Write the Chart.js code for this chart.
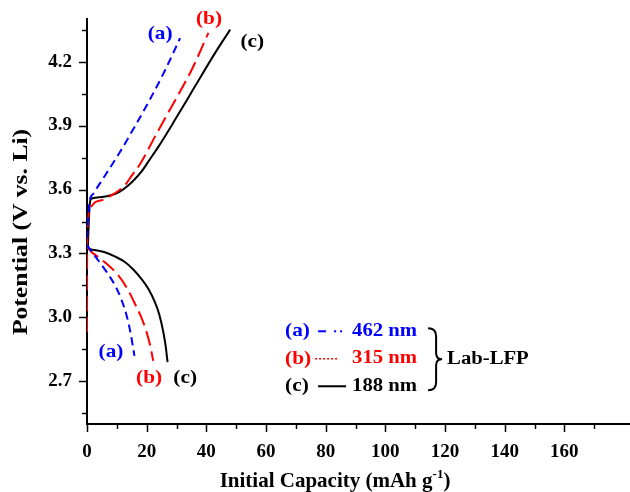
<!DOCTYPE html>
<html>
<head>
<meta charset="utf-8">
<script src="https://cdn.jsdelivr.net/npm/chart.js@4.4.0/dist/chart.umd.min.js"></script>
<style>
  html, body { margin: 0; padding: 0; background: #fff; }
</style>
</head>
<body>
<canvas id="capacityChart" width="630" height="492"></canvas>
<script>
// (a) 462 nm - charge / discharge  (capacity mAh/g, potential V)
const aChargeCap = [0, 0.3, 0.8, 2.1, 6, 11, 16, 21, 26, 31.2];
const aChargeV   = [3.37, 3.45, 3.54, 3.58, 3.665, 3.775, 3.895, 4.02, 4.155, 4.31];
const aDischCap  = [0, 1.5, 3.8, 6.5, 9.4, 11.5, 13.3, 14.7, 15.9];
const aDischV    = [3.34, 3.31, 3.267, 3.215, 3.15, 3.085, 3.008, 2.92, 2.82];

// (b) 315 nm
const bChargeCap = [0, 0.05, 0.2, 0.6, 1.5, 2.7, 5, 8.5, 12.7, 15, 17.8, 23.4, 29, 35.1, 40.7];
const bChargeV   = [2.93, 3.3, 3.42, 3.49, 3.52, 3.54, 3.55, 3.575, 3.62, 3.665, 3.72, 3.864, 4.005, 4.162, 4.335];
const bDischCap  = [0, 1.6, 5, 10.5, 13.5, 16.1, 18.2, 20, 21.3, 22.2];
const bDischV    = [3.33, 3.306, 3.27, 3.197, 3.135, 3.063, 3.0, 2.93, 2.86, 2.796];

// (c) 188 nm
const cChargeCap = [0.3, 0.6, 1.0, 1.57, 5, 8.3, 11, 13.9, 16, 18.3, 21, 23.9, 29.5, 36.2, 42.9, 48];
const cChargeV   = [3.33, 3.45, 3.54, 3.558, 3.565, 3.574, 3.59, 3.62, 3.648, 3.685, 3.74, 3.80, 3.927, 4.084, 4.24, 4.35];
const cDischCap  = [0, 0.45, 3, 6, 9.5, 12.7, 15.5, 18.3, 20.5, 22.8, 24.2, 25.6, 26.4, 27];
const cDischV    = [3.34, 3.325, 3.315, 3.306, 3.285, 3.26, 3.225, 3.18, 3.136, 3.071, 3.015, 2.93, 2.862, 2.79];

// axis ticks (minor ticks carry an empty label)
const xTickValues = [0, 10, 20, 30, 40, 50, 60, 70, 80, 90, 100, 110, 120, 130, 140, 150, 160, 170];
const xTickLabels = ['0', '', '20', '', '40', '', '60', '', '80', '', '100', '', '120', '', '140', '', '160', ''];
const yTickValues = [2.55, 2.7, 2.85, 3.0, 3.15, 3.3, 3.45, 3.6, 3.75, 3.9, 4.05, 4.2, 4.35];
const yTickLabels = ['', '2.7', '', '3.0', '', '3.3', '', '3.6', '', '3.9', '', '4.2', ''];

// curve tags, placed in data units
const tagText  = ['(a)', '(b)', '(c)', '(a)', '(b)', '(c)'];
const tagColor = ['#0000ff', '#ff0000', '#000000', '#0000ff', '#ff0000', '#000000'];
const tagCap   = [24.5, 40.9, 55.4, 8.05, 20.8, 32.9];
const tagV     = [4.327, 4.398, 4.294, 2.839, 2.716, 2.716];

// legend rows
const legendTags   = ['(a)', '(b)', '(c)'];
const legendSizes  = ['462 nm', '315 nm', '188 nm'];
const legendColors = ['#0000ff', '#ff0000', '#000000'];
const legendGroup  = 'Lab-LFP';

const BLUE = '#0000ff', RED = '#ff0000', BLACK = '#000000';
const FONT = '"Liberation Serif", "Times New Roman", serif';

function pts(xs, ys) {
    return xs.map((x, i) => ({ x: x, y: ys[i] }));
}

function curve(xs, ys, color, dash) {
    return {
        data: pts(xs, ys),
        showLine: true,
        borderColor: color,
        borderWidth: 2,
        borderDash: dash,
        pointRadius: 0,
        cubicInterpolationMode: 'monotone',
        fill: false
    };
}

function drawText(ctx, str, x, y, opt) {
    ctx.save();
    ctx.font = 'bold ' + opt.size + 'px ' + FONT;
    ctx.fillStyle = opt.color || BLACK;
    ctx.textBaseline = opt.baseline || 'middle';
    ctx.textAlign = opt.align || 'center';
    ctx.translate(x, y);
    if (opt.rotate) ctx.rotate(opt.rotate);
    ctx.scale(opt.sx || 1, 1);
    ctx.fillText(str, 0, 0);
    ctx.restore();
}

// minor/major tick marks, titles, tags and the legend box
const decorations = {
    id: 'decorations',
    afterDraw(chart) {
        const ctx = chart.ctx;
        const xs = chart.scales.x, ys = chart.scales.y;
        const area = chart.chartArea;

        ctx.save();
        ctx.strokeStyle = BLACK;
        ctx.lineWidth = 1.5;
        xTickValues.forEach((v, i) => {
            const px = Math.round(xs.getPixelForValue(v)) + 0.5;
            const len = xTickLabels[i] ? 8 : 5;
            ctx.beginPath();
            ctx.moveTo(px, area.bottom);
            ctx.lineTo(px, area.bottom + len);
            ctx.stroke();
        });
        yTickValues.forEach((v, i) => {
            const py = Math.round(ys.getPixelForValue(v)) + 0.5;
            const len = yTickLabels[i] ? 8 : 5;
            ctx.beginPath();
            ctx.moveTo(area.left, py);
            ctx.lineTo(area.left - len, py);
            ctx.stroke();
        });
        ctx.restore();

        // y title
        drawText(ctx, 'Potential (V vs. Li)', 22, 232, { size: 20, rotate: -Math.PI / 2, sx: 1.28 });

        // x title with superscript
        ctx.save();
        ctx.font = 'bold 21px ' + FONT;
        const main = 'Initial Capacity (mAh g';
        const wMain = ctx.measureText(main).width;
        ctx.font = 'bold 13px ' + FONT;
        const wSup = ctx.measureText('-1').width;
        ctx.font = 'bold 21px ' + FONT;
        const wEnd = ctx.measureText(')').width;
        const total = wMain + wSup + wEnd;
        const x0 = 335 - total / 2;
        const base = 487;
        ctx.fillStyle = BLACK;
        ctx.textBaseline = 'alphabetic';
        ctx.textAlign = 'left';
        ctx.fillText(main, x0, base);
        ctx.font = 'bold 13px ' + FONT;
        ctx.fillText('-1', x0 + wMain, base - 9);
        ctx.font = 'bold 21px ' + FONT;
        ctx.fillText(')', x0 + wMain + wSup, base);
        ctx.restore();

        // curve tags
        tagText.forEach((t, i) => {
            drawText(ctx, t, xs.getPixelForValue(tagCap[i]), ys.getPixelForValue(tagV[i]),
                { size: 19, color: tagColor[i], sx: 1.12 });
        });

        // legend
        const lx = xs.getPixelForValue(66.4);
        const ly = ys.getPixelForValue(2.935);
        const rowGap = 27.5;
        legendTags.forEach((t, i) => {
            const y = ly + i * rowGap;
            drawText(ctx, t, lx, y, { size: 19, color: legendColors[i], sx: 1.12, align: 'left' });
            drawText(ctx, legendSizes[i], lx + 132, y, { size: 18, color: legendColors[i], sx: 1.15, align: 'right' });
        });
        ctx.save();
        // (a) dash-dot-dot sample
        ctx.fillStyle = BLUE;
        ctx.fillRect(lx + 33, ly - 1, 8, 2);
        ctx.fillRect(lx + 49, ly - 1, 2, 2);
        ctx.fillRect(lx + 55, ly - 1, 2, 2);
        // (b) dotted sample
        ctx.strokeStyle = RED;
        ctx.lineWidth = 1.5;
        ctx.setLineDash([2, 2]);
        ctx.beginPath();
        ctx.moveTo(lx + 30, ly + rowGap);
        ctx.lineTo(lx + 53, ly + rowGap);
        ctx.stroke();
        // (c) solid sample
        ctx.setLineDash([]);
        ctx.strokeStyle = BLACK;
        ctx.lineWidth = 2;
        ctx.beginPath();
        ctx.moveTo(lx + 33, ly + 2 * rowGap);
        ctx.lineTo(lx + 61, ly + 2 * rowGap);
        ctx.stroke();
        // brace
        const bx = lx + 143, top = ly - 3, bot = ly + 2 * rowGap + 4, mid = (top + bot) / 2;
        ctx.lineWidth = 2;
        ctx.beginPath();
        ctx.moveTo(bx, top);
        ctx.quadraticCurveTo(bx + 8, top, bx + 8, top + 8);
        ctx.lineTo(bx + 8, mid - 6);
        ctx.quadraticCurveTo(bx + 8, mid, bx + 14, mid);
        ctx.quadraticCurveTo(bx + 8, mid, bx + 8, mid + 6);
        ctx.lineTo(bx + 8, bot - 8);
        ctx.quadraticCurveTo(bx + 8, bot, bx, bot);
        ctx.stroke();
        ctx.restore();
        drawText(ctx, legendGroup, bx + 19, ly + rowGap + 1, { size: 18, sx: 1.15, align: 'left' });
    }
};

const tickFont = { family: FONT, weight: 'bold', size: 19 };

const ctx = document.getElementById('capacityChart').getContext('2d');
const capacityChart = new Chart(ctx, {
    type: 'scatter',
    data: {
        datasets: [
            curve(aChargeCap, aChargeV, BLUE, [8, 5]),
            curve(aDischCap, aDischV, BLUE, [8, 5]),
            curve(bChargeCap, bChargeV, RED, [15, 6]),
            curve(bDischCap, bDischV, RED, [15, 6]),
            curve(cChargeCap, cChargeV, BLACK, []),
            curve(cDischCap, cDischV, BLACK, [])
        ]
    },
    options: {
        responsive: false,
        animation: false,
        devicePixelRatio: 1,
        layout: { padding: { top: 19, right: 0, left: 0, bottom: 0 } },
        plugins: {
            legend: { display: false },
            tooltip: { enabled: false }
        },
        scales: {
            x: {
                type: 'linear',
                position: 'bottom',
                min: 0,
                max: 182,
                afterBuildTicks: axis => { axis.ticks = xTickValues.map(v => ({ value: v })); },
                afterFit: axis => {
                    axis.height = 68;
                    axis.paddingLeft = 0;
                    axis.paddingRight = 0;
                },
                ticks: {
                    autoSkip: false,
                    maxRotation: 0,
                    padding: 17,
                    color: BLACK,
                    font: tickFont,
                    callback: (v, i) => xTickLabels[i]
                },
                grid: { display: false, drawTicks: false },
                border: { display: true, color: BLACK, width: 2 }
            },
            y: {
                type: 'linear',
                position: 'left',
                min: 2.5,
                max: 4.4,
                afterBuildTicks: axis => { axis.ticks = yTickValues.map(v => ({ value: v })); },
                afterFit: axis => {
                    axis.width = 87;
                    axis.paddingTop = 0;
                    axis.paddingBottom = 0;
                },
                ticks: {
                    autoSkip: false,
                    padding: 15,
                    color: BLACK,
                    font: tickFont,
                    callback: (v, i) => yTickLabels[i]
                },
                grid: { display: false, drawTicks: false },
                border: { display: true, color: BLACK, width: 2 }
            }
        }
    },
    plugins: [decorations]
});
</script>
</body>
</html>
